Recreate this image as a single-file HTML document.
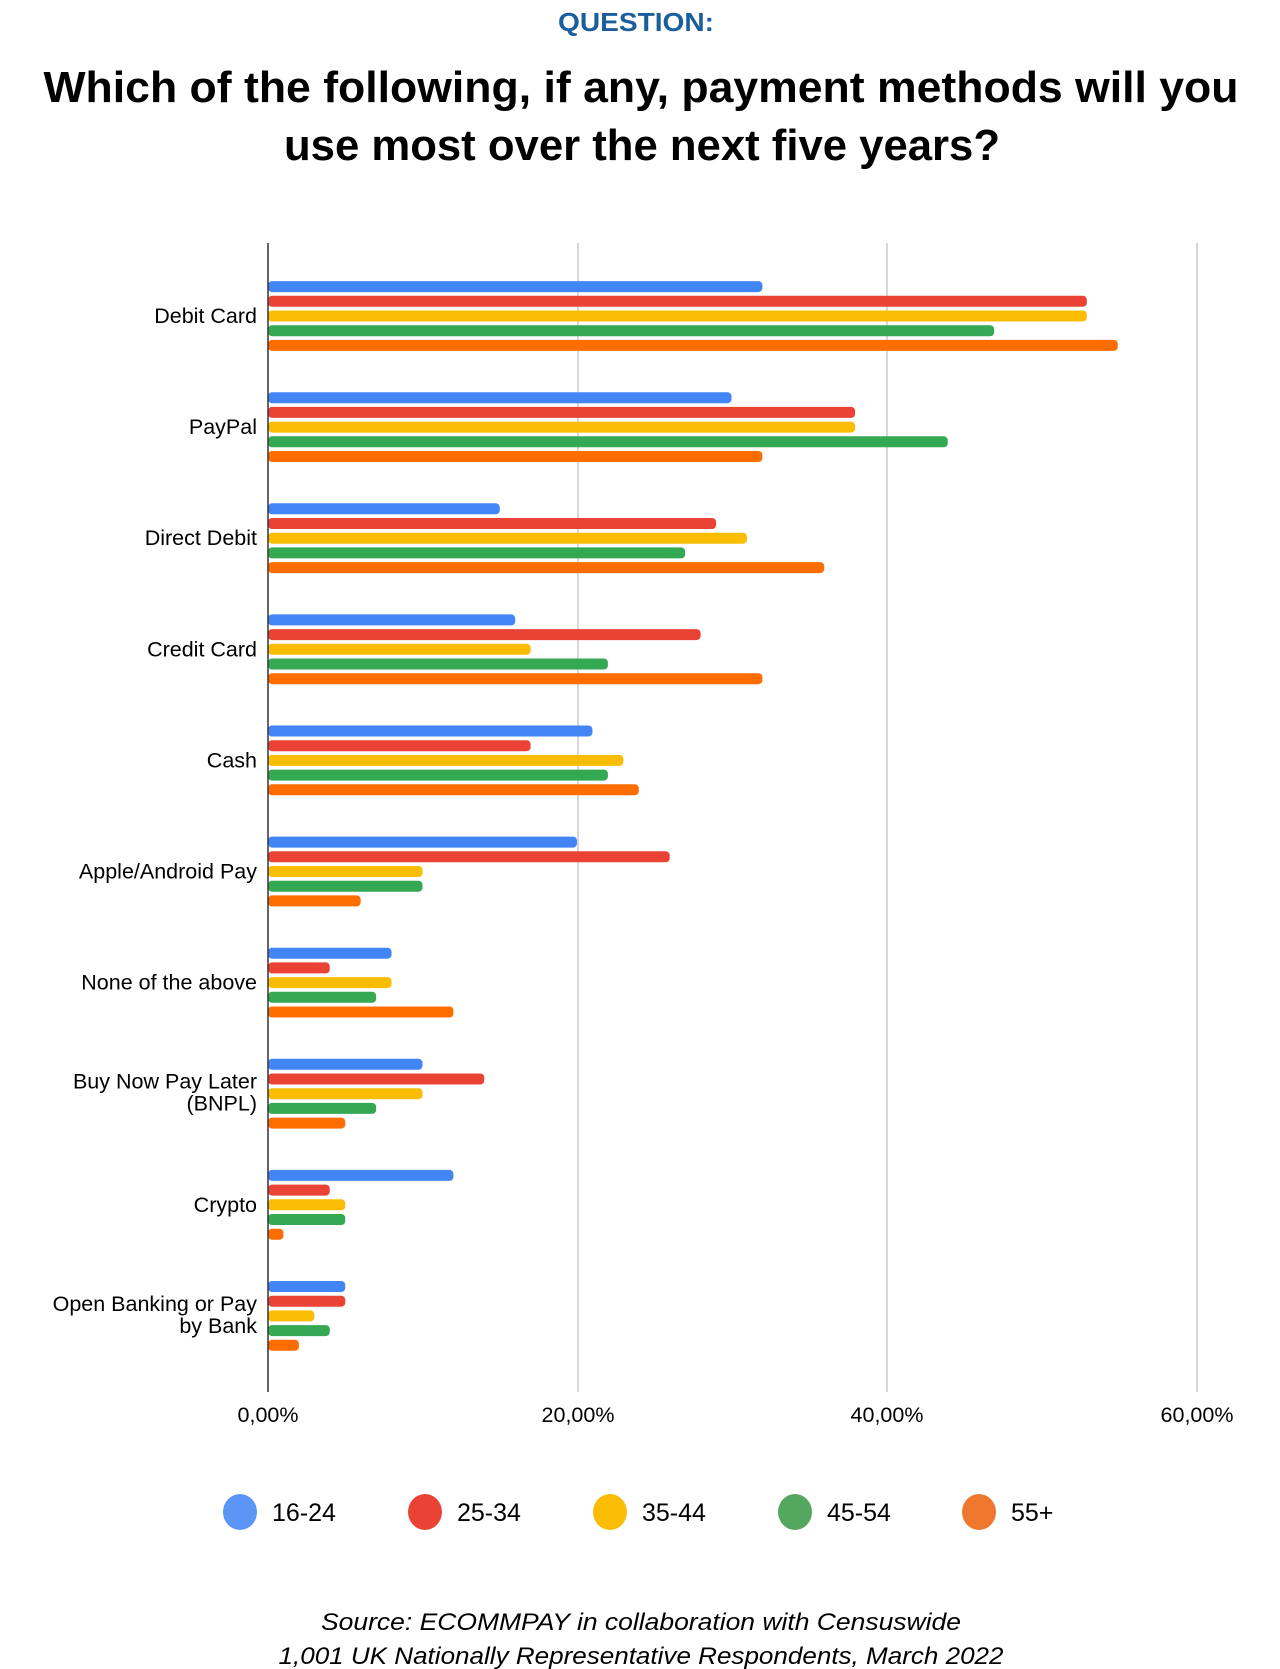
<!DOCTYPE html>
<html><head><meta charset="utf-8"><style>
html,body{margin:0;padding:0;background:#fff;}
svg{display:block;}
</style></head><body>
<svg width="1280" height="1669" viewBox="0 0 1280 1669" xmlns="http://www.w3.org/2000/svg" font-family="Liberation Sans, sans-serif">
<text x="636" y="31" text-anchor="middle" font-size="26" font-weight="bold" fill="#1a5e9e" textLength="156" lengthAdjust="spacingAndGlyphs">QUESTION:</text>
<text x="641" y="102" text-anchor="middle" font-size="44" font-weight="bold" fill="#000" textLength="1195" lengthAdjust="spacingAndGlyphs">Which of the following, if any, payment methods will you</text>
<text x="642" y="160" text-anchor="middle" font-size="44" font-weight="bold" fill="#000" textLength="716" lengthAdjust="spacingAndGlyphs">use most over the next five years?</text>
<g stroke="#ccc" stroke-width="1.5">
<line x1="578" y1="243" x2="578" y2="1392"/>
<line x1="887" y1="243" x2="887" y2="1392"/>
<line x1="1197" y1="243" x2="1197" y2="1392"/>
</g>
<g id="bars"></g>
<line x1="268" y1="243" x2="268" y2="1392" stroke="#333" stroke-width="1.5"/>
<g font-size="21.5" fill="#000" text-anchor="middle">
<text x="268" y="1422">0,00%</text>
<text x="578" y="1422">20,00%</text>
<text x="887" y="1422">40,00%</text>
<text x="1197" y="1422">60,00%</text>
</g>
<g font-size="21.5" fill="#000" text-anchor="end" id="labels"></g>
<g font-size="25" fill="#000">
<ellipse cx="240" cy="1512" rx="17" ry="18" fill="#5b95f5"/><text x="272" y="1521">16-24</text>
<ellipse cx="425" cy="1512" rx="17" ry="18" fill="#ea4335"/><text x="457" y="1521">25-34</text>
<ellipse cx="610" cy="1512" rx="17" ry="18" fill="#fbbc04"/><text x="642" y="1521">35-44</text>
<ellipse cx="795" cy="1512" rx="17" ry="18" fill="#55a75f"/><text x="827" y="1521">45-54</text>
<ellipse cx="979" cy="1512" rx="17" ry="18" fill="#f0782e"/><text x="1011" y="1521">55+</text>
</g>
<g font-size="24" font-style="italic" fill="#000" text-anchor="middle">
<text x="641" y="1630" textLength="640" lengthAdjust="spacingAndGlyphs">Source:  ECOMMPAY in collaboration with Censuswide</text>
<text x="641" y="1664" textLength="725" lengthAdjust="spacingAndGlyphs">1,001 UK Nationally Representative Respondents, March 2022</text>
</g>
<script>
var data=[["Debit Card",[32,53,53,47,55]],["PayPal",[30,38,38,44,32]],["Direct Debit",[15,29,31,27,36]],["Credit Card",[16,28,17,22,32]],["Cash",[21,17,23,22,24]],["Apple/Android Pay",[20,26,10,10,6]],["None of the above",[8,4,8,7,12]],["Buy Now Pay Later|(BNPL)",[10,14,10,7,5]],["Crypto",[12,4,5,5,1]],["Open Banking or Pay|by Bank",[5,5,3,4,2]]];
var cols=["#4285f4","#ea4335","#fbbc04","#34a853","#ff6d01"];
var ns="http://www.w3.org/2000/svg",bg=document.getElementById("bars"),lg=document.getElementById("labels");
data.forEach(function(d,i){
 var cy=316+i*111.1;
 d[1].forEach(function(v,j){
  var r=document.createElementNS(ns,"rect");
  var y=cy+(j-2)*14.7-5.5;
  r.setAttribute("x",268);r.setAttribute("y",y);r.setAttribute("width",v*15.45);r.setAttribute("height",11);
  r.setAttribute("rx",4);r.setAttribute("fill",cols[j]);bg.appendChild(r);
 });
 var parts=d[0].split("|");
 parts.forEach(function(p,k){
  var t=document.createElementNS(ns,"text");
  t.setAttribute("x",257);
  var off=parts.length==1?7:(k==0?-5:17);
  t.setAttribute("y",cy+off);t.textContent=p;lg.appendChild(t);
 });
});
</script>
</svg>
</body></html>
